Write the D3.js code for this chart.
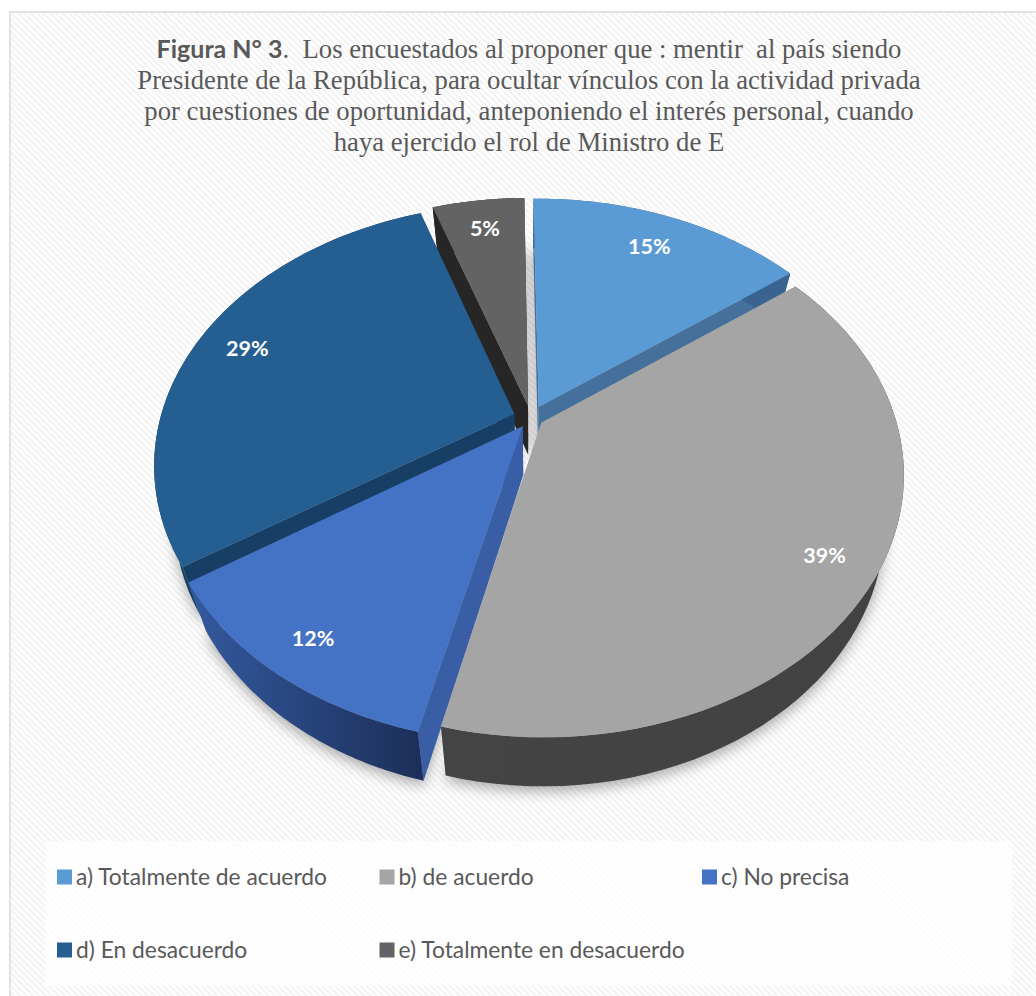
<!DOCTYPE html>
<html>
<head>
<meta charset="utf-8">
<script src="https://cdn.jsdelivr.net/npm/d3@7/dist/d3.min.js"></script>
<style>
html,body{margin:0;padding:0;background:#fff;}
svg{display:block;}
</style>
</head>
<body>
<div id="chart"></div>
<script>
// Survey answers, in percent
const categories = ["a) Totalmente de acuerdo","b) de acuerdo","c) No precisa","d) En desacuerdo","e) Totalmente en desacuerdo"];
const percentages = [15,39,12,29,5];
const topColors = ["#5b9bd5","#a5a5a5","#4472c4","#255e91","#636363"];
const wallColors = ["#44709b","#a5a5a5","#3a5ea6","#173f66","#262626"];
const rimLeft = ["#3a648f","#444444","#345a9f","#173f66","#262626"];
const rimRight = ["#3a648f","#424242","#1c2f5a","#173f66","#262626"];
const explodeBy = [0.05,0.035,0.04,0.05,0.05];
const labelRadius = [0.82,0.864,0.875,0.845,0.844];
const titleLines = [
  [["Figura N° 3","b"],[".  Los encuestados al proponer que : mentir  al país siendo","r"]],
  [["Presidente de la República, para ocultar vínculos con la actividad privada","r"]],
  [["por cuestiones de oportunidad, anteponiendo el interés personal, cuando","r"]],
  [["haya ejercido el rol de Ministro de E","r"]]
];

const W = 1036, H = 996;
const svg = d3.select("#chart").append("svg").attr("width",W).attr("height",H);
const defs = svg.append("defs");

// Diagonal hatch behind the whole figure
const hatch = defs.append("pattern").attr("id","hatch").attr("width",4.5).attr("height",4.5)
  .attr("patternUnits","userSpaceOnUse").attr("patternTransform","rotate(45)");
hatch.append("rect").attr("width",4.5).attr("height",4.5).attr("fill","#ffffff");
hatch.append("rect").attr("width",4.5).attr("height",2.25).attr("fill","#f3f3f3");

svg.append("rect").attr("width",W).attr("height",H).attr("fill","#fff");
svg.append("rect").attr("x",10).attr("y",12).attr("width",W+20).attr("height",H)
  .attr("fill","url(#hatch)").attr("stroke","#e2e2e2").attr("stroke-width",2);

// Legend panel
svg.append("rect").attr("x",45).attr("y",841).attr("width",967).attr("height",145)
  .attr("fill","#fff").attr("fill-opacity",0.72);

// Title
const title = svg.append("text").attr("text-anchor","middle").attr("fill","#595959");
titleLines.forEach((line,i)=>{
  const t = title.append("tspan").attr("x",529).attr("y",58+i*30.9);
  line.forEach(([txt,kind])=>{
    t.append("tspan").text(txt)
      .attr("font-family",kind==="b"?"Lato, 'Open Sans', sans-serif":"'Liberation Serif', serif")
      .attr("font-weight",kind==="b"?700:400)
      .attr("font-size",kind==="b"?25:26.7)
      .attr("xml:space","preserve");
  });
});

// Perspective projection of the disc plane onto the page
const cx = 531, cy = 418, fx = 354, fy = 252, persp = 0.192;
const depth = 49, vanish = 0.052;
const project = (X,Y)=>{
  const d = 1 + persp*Y;
  return [cx + fx*X/d, cy - fy*Y/d];
};
const lower = ([x,y])=>[x + vanish*(cx-x), y + depth];

// The first slice begins just before twelve o'clock
const turn = -0.8*Math.PI/180;
const pie = d3.pie().sort(null).value(d=>d).startAngle(turn).endAngle(2*Math.PI+turn)(percentages);
const line = d3.line();

const slices = pie.map((p,i)=>{
  const mid = (p.startAngle+p.endAngle)/2;
  const ex = explodeBy[i]*Math.sin(mid), ey = explodeBy[i]*Math.cos(mid);
  const rim = d3.range(0,61).map(k=>{
    const a = p.startAngle + (p.endAngle-p.startAngle)*k/60;
    return project(ex+Math.sin(a), ey+Math.cos(a));
  });
  return {i, value:p.value, mid, apex:project(ex,ey), rim, ex, ey};
});

// Soft shadow beneath the disc
defs.append("filter").attr("id","soft").attr("x","-20%").attr("y","-20%").attr("width","140%").attr("height","140%")
  .append("feGaussianBlur").attr("stdDeviation",7);
const shadowG = svg.append("g").attr("filter","url(#soft)").attr("fill","#000").attr("fill-opacity",0.32);
slices.forEach(s=>{
  const pts = [s.apex,...s.rim].map(lower).map(([x,y])=>[x,y+5]);
  shadowG.append("path").attr("d",line(pts)+"Z");
});

// Rim shading runs left to right across each outer wall
slices.forEach(s=>{
  const xs = s.rim.map(d=>d[0]);
  const g = defs.append("linearGradient").attr("id","rim"+s.i).attr("gradientUnits","userSpaceOnUse")
    .attr("x1",d3.min(xs)).attr("x2",d3.max(xs)).attr("y1",0).attr("y2",0);
  g.append("stop").attr("offset",0).attr("stop-color",rimLeft[s.i]);
  g.append("stop").attr("offset",1).attr("stop-color",rimRight[s.i]);
});

// Back slices are painted first so the nearer ones overlap them
const order = [0,4,3,2,1];
const pieG = svg.append("g");
order.forEach(i=>{
  const s = slices[i], g = pieG.append("g");
  const first = s.rim[0], last = s.rim[s.rim.length-1];
  const wall = a=>line([s.apex,a,lower(a),lower(s.apex)])+"Z";
  g.append("path").attr("d",wall(first)).attr("fill",wallColors[i]);
  g.append("path").attr("d",wall(last)).attr("fill",wallColors[i]);
  g.append("path").attr("d",line([...s.rim,...s.rim.map(lower).reverse()])+"Z")
    .attr("fill",`url(#rim${i})`);
  g.append("path").attr("d",line([s.apex,...s.rim])+"Z").attr("fill",topColors[i]);
});

// Percentage labels on the slice tops
slices.forEach(s=>{
  const r = labelRadius[s.i];
  const [x,y] = project(s.ex+r*Math.sin(s.mid), s.ey+r*Math.cos(s.mid));
  svg.append("text").attr("x",x).attr("y",y).attr("text-anchor","middle").attr("dy","0.35em")
    .attr("font-family","Lato, 'Open Sans', sans-serif").attr("font-weight",700).attr("font-size",21.5)
    .attr("fill","#fff").text(s.value+"%");
});

// Legend, three columns on two rows
const col = d3.scalePoint().domain([0,1,2]).range([57,702]);
const row = d3.scalePoint().domain([0,1]).range([877,950]);
categories.forEach((c,i)=>{
  const x = col(i%3), y = row(Math.floor(i/3));
  svg.append("rect").attr("x",x).attr("y",y-7.5).attr("width",15).attr("height",15).attr("fill",topColors[i]);
  svg.append("text").attr("x",x+19).attr("y",y).attr("dy","0.35em")
    .attr("font-family","Lato, 'Open Sans', sans-serif").attr("font-size",22.8).attr("fill","#595959").text(c);
});
</script>
</body>
</html>
